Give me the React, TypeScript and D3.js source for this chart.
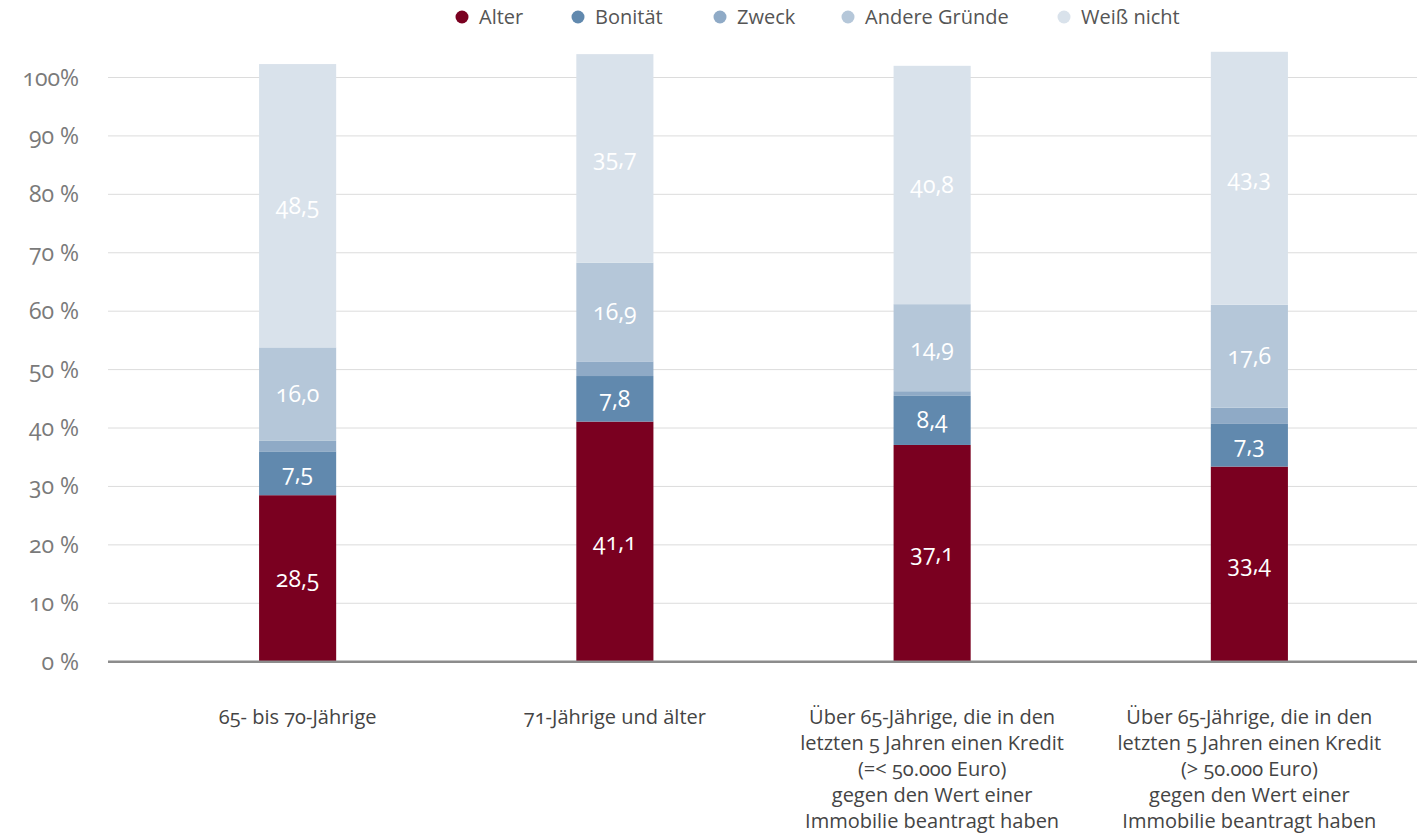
import React, { useEffect } from "react";
import * as d3 from "d3";

const categories: string[][] = [
  ["65- bis 70-Jährige"],
  ["71-Jährige und älter"],
  ["Über 65-Jährige, die in den", "letzten 5 Jahren einen Kredit", "(=< 50.000 Euro)", "gegen den Wert einer", "Immobilie beantragt haben"],
  ["Über 65-Jährige, die in den", "letzten 5 Jahren einen Kredit", "(> 50.000 Euro)", "gegen den Wert einer", "Immobilie beantragt haben"],
];

const seriesNames = ["Alter", "Bonität", "Zweck", "Andere Gründe", "Weiß nicht"];
const seriesColors = ["#7a0020", "#6189ae", "#8faac6", "#b5c7d9", "#d9e2eb"];

const alter = [28.5, 41.1, 37.1, 33.4];
const bonitaet = [7.5, 7.8, 8.4, 7.3];
const zweck = [1.8, 2.5, 0.8, 2.8];
const andere = [16.0, 16.9, 14.9, 17.6];
const weissNicht = [48.5, 35.7, 40.8, 43.3];
const showLabel = [true, true, false, true, true];

const yTicks = [0, 10, 20, 30, 40, 50, 60, 70, 80, 90, 100];
const yTickLabels = ["0 %", "10 %", "20 %", "30 %", "40 %", "50 %", "60 %", "70 %", "80 %", "90 %", "100%"];
const legendX = [462, 578, 720, 848, 1064];

const W = 1417;
const H = 836;

export default function App() {
  useEffect(() => {
    document.body.style.margin = "0";
  }, []);

  const series = [alter, bonitaet, zweck, andere, weissNicht];
  const rows = categories.map((_, i) => {
    const r: any = { idx: i };
    seriesNames.forEach((s, k) => (r[s] = series[k][i]));
    return r;
  });
  const stacked = d3.stack<any>().keys(seriesNames)(rows);

  const x = d3
    .scaleBand<number>()
    .domain(categories.map((_, i) => i))
    .range([139, 1408])
    .paddingInner(0.757)
    .paddingOuter(0.3785);
  const y = d3.scaleLinear().domain([0, 100]).range([661.7, 77.5]);

  const fmt = (v: number) => v.toFixed(1).replace(".", ",");
  const font = "'Open Sans', 'Noto Sans', sans-serif";
  const onum = { fontVariantNumeric: "oldstyle-nums" } as React.CSSProperties;

  return (
    <svg width={W} height={H} style={{ display: "block", fontFamily: font }}>
      <rect width={W} height={H} fill="#fff" />
      {yTicks.map((t, i) => (
        <g key={t}>
          {t > 0 && (
            <line x1={108} x2={W} y1={y(t)} y2={y(t)} stroke="#dcdcdc" strokeWidth={1} />
          )}
          <text x={79} y={y(t)} dy="0.35em" textAnchor="end" fontSize={23} fill="#7a7a7a" style={onum}>
            {yTickLabels[i]}
          </text>
        </g>
      ))}
      {stacked.map((s, k) => (
        <g key={s.key} fill={seriesColors[k]}>
          {s.map((d, i) => (
            <rect key={i} x={x(i)} width={x.bandwidth()} y={y(d[1])} height={y(d[0]) - y(d[1])} />
          ))}
        </g>
      ))}
      {stacked.map((s, k) =>
        showLabel[k]
          ? s.map((d, i) => (
              <text
                key={s.key + i}
                x={(x(i) as number) + x.bandwidth() / 2}
                y={(y(d[0]) + y(d[1])) / 2}
                dy="0.35em"
                textAnchor="middle"
                fontSize={23}
                fill="#fff"
                style={onum}
              >
                {fmt(d[1] - d[0])}
              </text>
            ))
          : null
      )}
      <line x1={108} x2={W} y1={y(0)} y2={y(0)} stroke="#8c8c8c" strokeWidth={2.5} />
      {categories.map((lines, i) => (
        <text
          key={i}
          x={(x(i) as number) + x.bandwidth() / 2}
          y={717}
          textAnchor="middle"
          fontSize={20}
          fill="#444"
          style={onum}
        >
          {lines.map((l, j) => (
            <tspan key={j} x={(x(i) as number) + x.bandwidth() / 2} y={717 + j * 26} dy="0.35em">
              {l}
            </tspan>
          ))}
        </text>
      ))}
      {seriesNames.map((n, k) => (
        <g key={n} transform={`translate(${legendX[k]},17)`}>
          <circle r={6.5} fill={seriesColors[k]} />
          <text x={17} dy="0.35em" fontSize={20} fill="#555">
            {n}
          </text>
        </g>
      ))}
    </svg>
  );
}
